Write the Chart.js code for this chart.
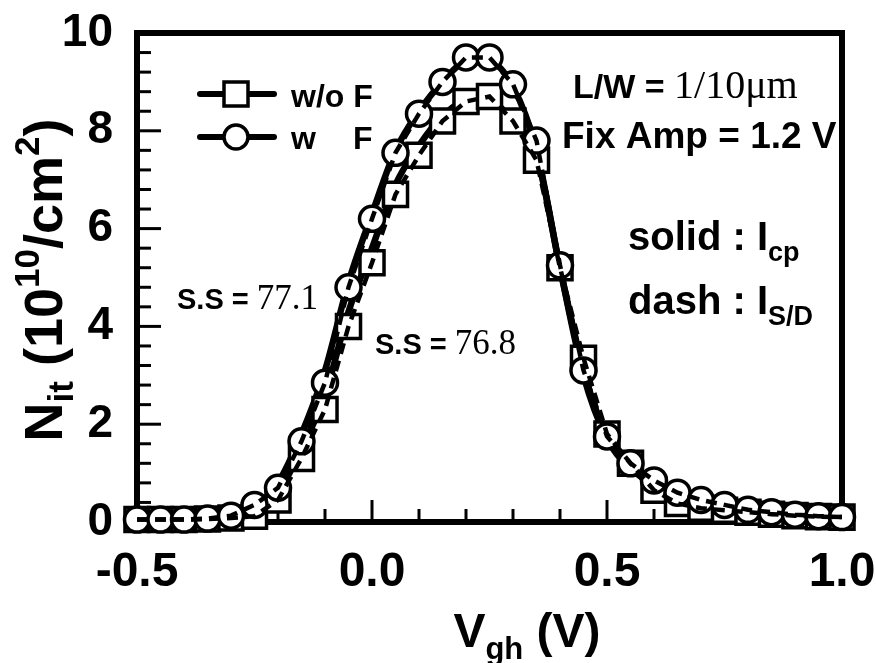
<!DOCTYPE html>
<html>
<head>
<meta charset="utf-8">
<script src="https://cdn.jsdelivr.net/npm/chart.js@4.4.0/dist/chart.umd.min.js"></script>
<style>
html, body { margin: 0; padding: 0; background: #fff; }
</style>
</head>
<body>
<canvas id="myChart" width="876" height="663"></canvas>
<script>
// gate voltage (V)
const vgh = [-0.5, -0.45, -0.4, -0.35, -0.3, -0.25, -0.2, -0.15, -0.1, -0.05, 0.0,
    0.05, 0.1, 0.15, 0.2, 0.25, 0.3, 0.35, 0.4, 0.45, 0.5,
    0.55, 0.6, 0.65, 0.7, 0.75, 0.8, 0.85, 0.9, 0.95, 1.0];
// dash : I_S/D (with markers)
const isdWoF = [0.05, 0.05, 0.05, 0.06, 0.08, 0.12, 0.45, 1.3, 2.3, 4.0, 5.3,
    6.7, 7.5, 8.2, 8.6, 8.7, 8.2, 7.4, 5.2, 3.35, 1.8,
    1.2, 0.65, 0.38, 0.28, 0.24, 0.2, 0.16, 0.13, 0.11, 0.1];
const isdWF = [0.05, 0.05, 0.05, 0.07, 0.13, 0.35, 0.7, 1.65, 2.85, 4.8, 6.2,
    7.55, 8.35, 9.0, 9.5, 9.5, 8.95, 7.8, 5.25, 3.1, 1.75,
    1.2, 0.85, 0.6, 0.45, 0.35, 0.25, 0.2, 0.15, 0.12, 0.1];
// solid : I_cp (lines only)
const icpWoF = [0.03, 0.03, 0.04, 0.05, 0.1, 0.25, 0.6, 1.5, 2.6, 4.3, 5.6,
    6.9, 7.7, 8.3, 8.6, 8.6, 8.2, 7.5, 5.2, 3.1, 1.75,
    1.15, 0.7, 0.45, 0.33, 0.25, 0.18, 0.14, 0.1, 0.08, 0.07];
const icpWF = [0.03, 0.03, 0.04, 0.06, 0.12, 0.3, 0.8, 1.8, 3.1, 4.9, 6.3,
    7.6, 8.4, 9.0, 9.4, 9.4, 8.9, 7.6, 5.2, 3.0, 1.7,
    1.1, 0.75, 0.5, 0.35, 0.25, 0.18, 0.14, 0.1, 0.08, 0.07];
const xTicks = [-0.5, 0.0, 0.5, 1.0];
const yTicks = [0, 2, 4, 6, 8, 10];

const SANS = "'Liberation Sans', Arial, sans-serif";
const SERIF = "'Liberation Serif', 'Times New Roman', serif";

function pts(arr){
    return vgh.map((v, i) => ({x: v, y: arr[i]}));
}

// draw a run of text pieces, each with its own font and baseline shift
function drawRun(ctx, x, y, parts){
    parts.forEach(p => {
        ctx.font = p.font;
        ctx.fillText(p.t, x, y + (p.dy || 0));
        x += ctx.measureText(p.t).width;
    });
    return x;
}
function runWidth(ctx, parts){
    let w = 0;
    parts.forEach(p => { ctx.font = p.font; w += ctx.measureText(p.t).width; });
    return w;
}

// frame + inward ticks
const framePlugin = {
    id: 'frame',
    beforeDatasetsDraw(chart){
        const ctx = chart.ctx;
        const a = chart.chartArea;
        const xs = chart.scales.x, ys = chart.scales.y;
        ctx.save();
        ctx.strokeStyle = '#000';
        ctx.lineWidth = 3;
        for (let i = 1; i < 25; i++){
            const py = ys.getPixelForValue(i * 0.4);
            const len = (i % 5 === 0) ? 24 : 14;
            ctx.beginPath();
            ctx.moveTo(a.left, py);
            ctx.lineTo(a.left + len, py);
            ctx.stroke();
        }
        for (let i = 1; i < 15; i++){
            const px = xs.getPixelForValue(-0.5 + i * 0.1);
            const len = (i % 5 === 0) ? 22 : 13;
            ctx.beginPath();
            ctx.moveTo(px, a.bottom);
            ctx.lineTo(px, a.bottom - len);
            ctx.stroke();
        }
        ctx.lineWidth = 6;
        ctx.strokeRect(a.left, a.top, a.right - a.left, a.bottom - a.top);
        ctx.restore();
    }
};

// legend, notes and axis titles
const textPlugin = {
    id: 'texts',
    afterDraw(chart){
        const ctx = chart.ctx;
        ctx.save();
        ctx.fillStyle = '#000';
        ctx.strokeStyle = '#000';
        ctx.textBaseline = 'alphabetic';

        // legend
        ctx.lineCap = 'round';
        ctx.lineWidth = 6;
        [94, 137].forEach(ly => {
            ctx.beginPath();
            ctx.moveTo(200, ly);
            ctx.lineTo(274, ly);
            ctx.stroke();
        });
        ctx.lineWidth = 3.5;
        ctx.fillStyle = '#fff';
        ctx.fillRect(224, 82, 24, 24);
        ctx.strokeRect(224, 82, 24, 24);
        ctx.beginPath();
        ctx.arc(236, 137, 12, 0, Math.PI * 2);
        ctx.fill();
        ctx.stroke();
        ctx.fillStyle = '#000';
        ctx.font = 'bold 32px ' + SANS;
        ctx.fillText('w/o F', 291, 107);
        ctx.fillText('w', 291, 149);
        ctx.fillText('F', 353, 149);

        // notes
        const B = s => 'bold ' + s + 'px ' + SANS;
        const R = s => s + 'px ' + SERIF;
        drawRun(ctx, 573, 98, [{t: 'L/W = ', font: B(34)}, {t: '1/10\u03bcm', font: R(40)}]);
        ctx.font = B(37);
        ctx.fillText('Fix Amp = 1.2 V', 562, 148);
        drawRun(ctx, 628, 250, [{t: 'solid : I', font: B(40)}, {t: 'cp', font: B(27), dy: 11}]);
        drawRun(ctx, 628, 314, [{t: 'dash : I', font: B(40)}, {t: 'S/D', font: B(27), dy: 11}]);
        drawRun(ctx, 177, 309, [{t: 'S.S = ', font: B(29)}, {t: '77.1', font: R(35)}]);
        drawRun(ctx, 375, 354, [{t: 'S.S = ', font: B(29)}, {t: '76.8', font: R(35)}]);

        // x title
        const xt = [{t: 'V', font: B(48)}, {t: 'gh', font: B(31), dy: 12}, {t: ' (V)', font: B(48)}];
        drawRun(ctx, 527 - runWidth(ctx, xt) / 2, 647, xt);

        // y title
        const yt = [{t: 'N', font: B(54)}, {t: 'it', font: B(35), dy: 11}, {t: ' (10', font: B(54)},
            {t: '10', font: B(35), dy: -23}, {t: '/cm', font: B(54)}, {t: '2', font: B(35), dy: -23},
            {t: ')', font: B(54)}];
        ctx.translate(62, 280);
        ctx.rotate(-Math.PI / 2);
        drawRun(ctx, -runWidth(ctx, yt) / 2, 0, yt);
        ctx.restore();
    }
};

const chartArea = document.getElementById('myChart').getContext('2d');
new Chart(chartArea, {
    type: 'line',
    data: {
        datasets: [
            // dashed I_S/D lines, on top
            {data: pts(isdWF), borderColor: '#000', borderWidth: 4.5, borderDash: [11, 7],
                pointRadius: 0, tension: 0, order: 0},
            {data: pts(isdWoF), borderColor: '#000', borderWidth: 4.5, borderDash: [11, 7],
                pointRadius: 0, tension: 0, order: 1},
            // markers
            {data: pts(isdWF), showLine: false, pointStyle: 'circle', pointRadius: 12.5,
                pointBorderWidth: 3.5, pointBorderColor: '#000', pointBackgroundColor: '#fff', order: 2},
            {data: pts(isdWoF), showLine: false, pointStyle: 'rect', pointRadius: 17,
                pointBorderWidth: 3.5, pointBorderColor: '#000', pointBackgroundColor: '#fff', order: 3},
            // solid I_cp lines
            {data: pts(icpWF), borderColor: '#000', borderWidth: 6.5, pointRadius: 0,
                cubicInterpolationMode: 'monotone', order: 4},
            {data: pts(icpWoF), borderColor: '#000', borderWidth: 6.5, pointRadius: 0,
                cubicInterpolationMode: 'monotone', order: 5}
        ]
    },
    options: {
        responsive: false,
        animation: false,
        clip: false,
        layout: { padding: {left: 0, top: 33, right: 34, bottom: 0} },
        plugins: {
            legend: { display: false },
            tooltip: { enabled: false }
        },
        scales: {
            x: {
                type: 'linear',
                min: -0.5, max: 1.0,
                grid: { display: false, drawTicks: false },
                border: { display: false },
                afterBuildTicks: s => { s.ticks = xTicks.map(v => ({value: v})); },
                ticks: {
                    color: '#000', padding: 22,
                    font: {family: SANS, size: 48, weight: 'bold'},
                    callback: v => v.toFixed(1),
                    maxRotation: 0
                },
                afterFit: s => { s.height = 141; s.paddingLeft = 0; s.paddingRight = 0; }
            },
            y: {
                min: 0, max: 10,
                grid: { display: false, drawTicks: false },
                border: { display: false },
                afterBuildTicks: s => { s.ticks = yTicks.map(v => ({value: v})); },
                ticks: {
                    color: '#000', padding: 24,
                    font: {family: SANS, size: 46, weight: 'bold'}
                },
                afterFit: s => { s.width = 137; s.paddingTop = 0; s.paddingBottom = 0; }
            }
        }
    },
    plugins: [framePlugin, textPlugin]
});
</script>
</body>
</html>
